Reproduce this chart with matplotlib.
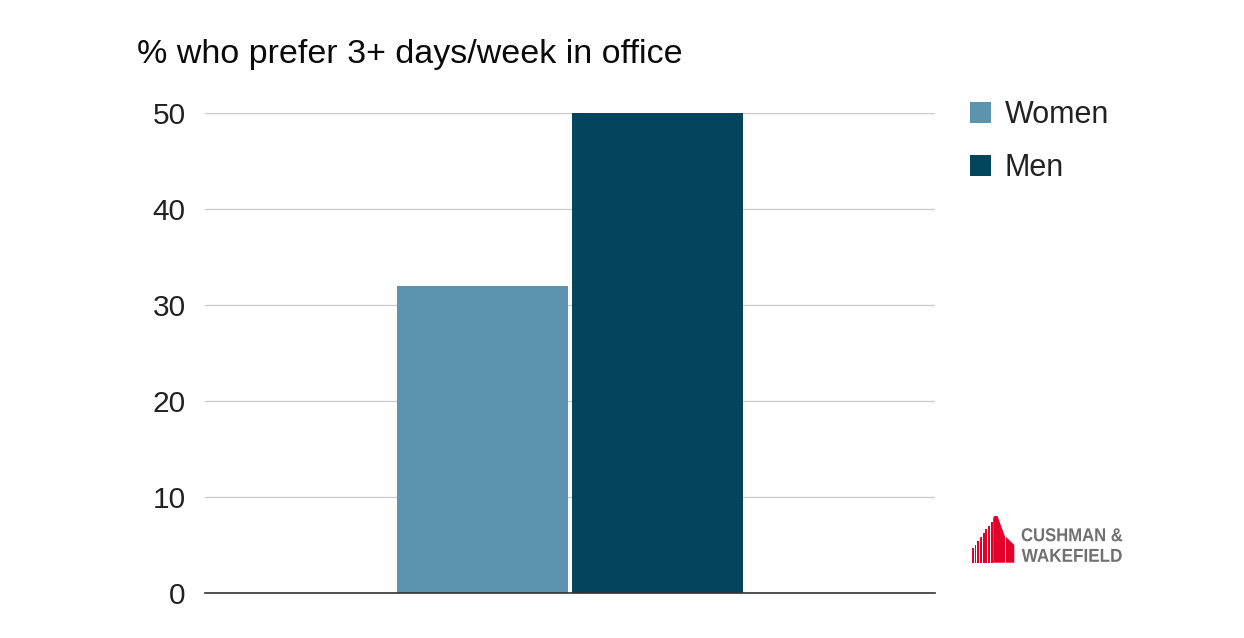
import matplotlib
matplotlib.use("Agg")
import matplotlib.pyplot as plt
from matplotlib.patches import Patch, Polygon, Rectangle, PathPatch
from matplotlib.textpath import TextPath
from matplotlib.font_manager import FontProperties
from matplotlib.transforms import Affine2D

plt.rcParams['font.family'] = ['Liberation Sans', 'DejaVu Sans']

# Data
series = ["Women", "Men"]
values = [32, 50]
colors = ["#5b93b0", "#03455d"]
yticks = [0, 10, 20, 30, 40, 50]
title = "% who prefer 3+ days/week in office"

W, H = 1244, 638
fig = plt.figure(figsize=(W / 100, H / 100), dpi=100)
ax = fig.add_axes([205 / W, 1 - 593 / H, 730 / W, 480 / H])

bw = 0.234
gap = 0.006
offsets = [-(bw + gap) / 2, (bw + gap) / 2]
for off, v, c in zip(offsets, values, colors):
    ax.bar(off, v, width=bw, color=c, zorder=3)

ax.set_xlim(-0.5, 0.5)
ax.set_ylim(0, 50)
ax.set_yticks(yticks)
ax.set_yticklabels([str(t) for t in yticks])
ax.set_xticks([])
ax.tick_params(axis='y', length=0, pad=14, labelsize=21.5, labelcolor='#222222')
ax.grid(axis='y', color='#cccccc', linewidth=1, zorder=0)
for side in ['top', 'right', 'left']:
    ax.spines[side].set_visible(False)
ax.spines['bottom'].set_color('#333333')
ax.spines['bottom'].set_linewidth(1.2)
ax.spines['bottom'].set_zorder(4)

fig.text(137 / W, 1 - 63 / H, title, fontsize=24.5, color='#0a0a0a', va='baseline', ha='left')

handles = [Patch(facecolor=c, edgecolor='none') for c in colors]
fig.legend(handles, series, loc='upper left', bbox_to_anchor=(970 / W, 1 - 100 / H),
           frameon=False, fontsize=22, handlelength=0.69, handleheight=0.69,
           handletextpad=0.45, labelspacing=0.76, borderpad=0, borderaxespad=0,
           labelcolor='#222222')

# Logo (decoration)
red = '#e4002b'
def fp(x, y):
    return (x / W, 1 - y / H)

stripe_x = [971.8, 974.5, 977.2, 979.9, 982.6, 985.3, 988.0, 990.7]
for x0 in stripe_x:
    top = 548 - (x0 - 972) * (32 / 23)
    fig.patches.append(Rectangle(fp(x0, 562.7), 1.9 / W, (562.7 - top) / H,
                                 transform=fig.transFigure, color=red, lw=0))
pts = [(993.2, 517.5), (994.5, 516), (997.5, 516), (1005, 536.7), (1005, 562.7), (993.2, 562.7)]
fig.patches.append(Polygon([fp(x, y) for x, y in pts], closed=True,
                           transform=fig.transFigure, color=red, lw=0))
pts2 = [(1005.8, 536.7), (1014.3, 545), (1014.3, 562.7), (1005.8, 562.7)]
fig.patches.append(Polygon([fp(x, y) for x, y in pts2], closed=True,
                           transform=fig.transFigure, color=red, lw=0))

logo_fp = FontProperties(family='Liberation Sans', weight='bold')
def logo_text(s, x_left, baseline_y, cap_h, width):
    tp = TextPath((0, 0), s, size=100, prop=logo_fp)
    ext = tp.get_extents()
    sx = width / ext.width
    sy = cap_h / 71.6
    tr = (Affine2D().translate(-ext.x0, 0).scale(sx / W, sy / H)
          .translate(x_left / W, 1 - baseline_y / H) + fig.transFigure)
    fig.patches.append(PathPatch(tp, transform=tr, facecolor='#707070', lw=0))

logo_text("CUSHMAN &", 1021.7, 541.2, 13.4, 100.6)
logo_text("WAKEFIELD", 1021.7, 561.8, 13.4, 100.0)

fig.savefig("out.png", dpi=100)
